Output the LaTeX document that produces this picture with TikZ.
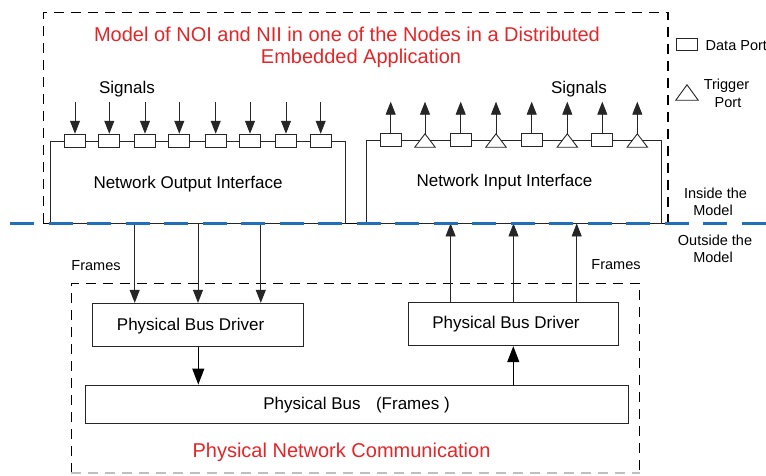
\documentclass[tikz,border=0pt]{standalone}
\usepackage{fontspec}
\setmainfont{Liberation Sans}
\usetikzlibrary{arrows.meta,calc}
\definecolor{titlered}{RGB}{228,38,40}
\definecolor{busblue}{RGB}{31,111,185}
\tikzset{
  px/.style={x=1pt,y=-1pt},
  boxline/.style={draw=black!85, line width=0.9pt},
  block/.style={boxline, rectangle, inner sep=0pt},
  dport/.style={boxline, fill=white, rectangle, minimum width=21pt, minimum height=13pt, inner sep=0pt},
  tslot/.style={rectangle, minimum width=20pt, minimum height=13pt, inner sep=0pt},
  tport/.style={boxline, fill=white, line join=miter},
  modelbox/.style={draw=black, line width=1.6pt, dash pattern=on 10pt off 7pt},
  sig/.style={-{Triangle[length=13pt,width=10pt]}, line width=0.9pt, draw=black!85},
  bigarr/.style={-{Triangle[length=16pt,width=12pt]}, line width=1.2pt, draw=black},
  txt/.style={inner sep=0pt, anchor=base, font=\fontsize{17}{20}\selectfont},
  small/.style={inner sep=0pt, anchor=base, font=\fontsize{14.5}{17}\selectfont},
  title/.style={inner sep=0pt, anchor=base, text=titlered, font=\fontsize{20}{24}\selectfont},
}
\begin{document}
\begin{tikzpicture}[px]
\useasboundingbox (0,0) rectangle (766,475);
\fill[white] (0,0) rectangle (766,475);

% boundary of the node model
\draw[modelbox] (43.3,223) -- (43.3,12.3) -- (668,12.3) -- (668,223);
\draw[boxline, draw=black] (43.3,223) -- (668,223);

% titles
\node[title] (title1) at (347,41) {Model of NOI and NII in one of the Nodes in a Distributed};
\node[title] (title2) at (361,63.3) {Embedded Application};

% network output interface with its data ports
\node[block, minimum width=295pt, minimum height=82pt] (noi) at (197.5,182) {};
\node[txt] (noitxt) at (188,188) {Network Output Interface};
\foreach \x [count=\i] in {75,109.3,145,179.3,215.7,250,286,320.7} {
  \node[dport] (p\i) at (\x,140.7) {};
  \coordinate (s\i) at (\x,102);
  \draw[sig] (s\i) -- (p\i.north);
}
\node[txt] (sigl) at (127,93) {Signals};

% network input interface with data and trigger ports
\node[block, minimum width=295pt, minimum height=83pt] (nii) at (513.5,181.5) {};
\node[txt] (niitxt) at (504.5,186.7) {Network Input Interface};
\foreach \x [count=\i] in {390.7,425,460.7,496,531.7,567.3,602.3,637.3} {
  \ifodd\i
    \node[dport] (q\i) at (\x,140.3) {};
  \else
    \node[tslot] (q\i) at (\x,140.5) {};
    \draw[tport] (q\i.north) -- (q\i.south east) -- (q\i.south west) -- cycle;
  \fi
  \coordinate (t\i) at (\x,101.7);
  \draw[sig] (q\i.north) -- (t\i);
}
\node[txt] (sigr) at (579,93.3) {Signals};

% legend
\node[dport, minimum height=12pt] (legd) at (686.7,44.2) {};
\node[small, anchor=base west] (legdtxt) at (705.5,50) {Data Port};
\node[tslot, minimum width=22pt, minimum height=15pt] (legt) at (687,92.5) {};
\draw[tport] (legt.north) -- (legt.south east) -- (legt.south west) -- cycle;
\node[small] (legt1) at (726.5,89.5) {Trigger};
\node[small] (legt2) at (728,107) {Port};

\node[small] (in1) at (715.5,198) {Inside the};
\node[small] (in2) at (713,215.5) {Model};
\node[small] (out1) at (715,245.5) {Outside the};
\node[small] (out2) at (713,262.5) {Model};

% physical network communication
\draw[modelbox] (71.4,473) -- (71.4,283.3) -- (639.6,283.3) -- (639.6,473);
\draw[modelbox, draw=black!25] (71.4,473) -- (639.6,473);

\node[block, minimum width=210.3pt, minimum height=43pt] (pbdl) at (197.9,324.8) {};
\node[txt] (pbdltxt) at (190.6,330) {Physical Bus Driver};
\node[block, minimum width=210.2pt, minimum height=43.4pt] (pbdr) at (513.7,324) {};
\node[txt] (pbdrtxt) at (506,328.5) {Physical Bus Driver};
\node[block, minimum width=543.3pt, minimum height=38pt] (bus) at (357,404) {};
\node[txt] (bustxt) at (356.5,409) {Physical Bus\hspace{15.5pt}(Frames )};
\node[title] (pnc) at (341.5,457) {Physical Network Communication};

\node[small] (frl) at (96,270) {Frames};
\node[small] (frr) at (616,269.5) {Frames};

% frames between interfaces and bus drivers
\coordinate (f1) at (134.7,0);
\coordinate (f2) at (198,0);
\coordinate (f3) at (260.8,0);
\foreach \c in {f1,f2,f3}
  \draw[sig] (noi.south -| \c) -- (pbdl.north -| \c);
\coordinate (g1) at (450.6,0);
\coordinate (g2) at (513.5,0);
\coordinate (g3) at (576.7,0);
\foreach \c in {g1,g2,g3}
  \draw[sig] (pbdr.north -| \c) -- (nii.south -| \c);

% bus drivers and the bus
\coordinate (b1) at (198.3,0);
\coordinate (b2) at (513.3,0);
\draw[bigarr] (pbdl.south -| b1) -- (bus.north -| b1);
\draw[bigarr] (bus.north -| b2) -- (pbdr.south -| b2);

% model boundary line
\coordinate (bl0) at (10,223);
\coordinate (bl1) at (766,223);
\draw[busblue, line width=3pt, dash pattern=on 24pt off 14.5pt] (bl0) -- (bl1);
\end{tikzpicture}
\end{document}
